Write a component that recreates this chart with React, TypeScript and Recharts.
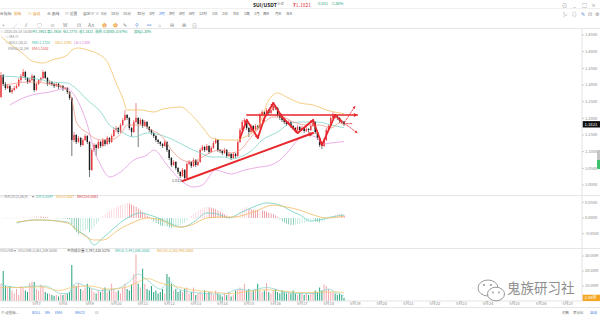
import React from 'react';
import { ComposedChart, Bar, Line, XAxis, YAxis, Cell, ReferenceLine, ReferenceDot } from 'recharts';

// ---------- data (2-hour candles, SUI/USDT) ----------
const FIRST_DAY_SLOT = 16; // slot of 5月7 00:00
const SLOTS_PER_DAY = 12;
const TOTAL_SLOTS = 263;
const firstDay = 7;

const opens = [
  1.264, 1.330, 1.303, 1.291, 1.297, 1.279, 1.285, 1.291, 1.297, 1.315,
  1.327, 1.339, 1.321, 1.309, 1.315, 1.327, 1.285, 1.303, 1.315, 1.321,
  1.339, 1.321, 1.303, 1.309, 1.303, 1.297, 1.303, 1.294, 1.297, 1.288,
  1.291, 1.279, 1.261, 1.135, 1.150, 1.129, 1.141, 1.120, 1.135, 1.147,
  1.129, 1.045, 1.105, 1.120, 1.111, 1.129, 1.117, 1.135, 1.123, 1.141,
  1.129, 1.147, 1.165, 1.171, 1.159, 1.180, 1.195, 1.210, 1.201, 1.171,
  1.159, 1.189, 1.201, 1.183, 1.195, 1.177, 1.189, 1.174, 1.165, 1.156,
  1.147, 1.135, 1.129, 1.123, 1.117, 1.129, 1.105, 1.081, 1.060, 1.069,
  1.051, 1.039, 1.027, 1.045, 1.021, 1.063, 1.069, 1.057, 1.075, 1.060,
  1.069, 1.105, 1.114, 1.105, 1.117, 1.099, 1.111, 1.126, 1.135, 1.105,
  1.102, 1.096, 1.105, 1.087, 1.093, 1.081, 1.093, 1.087, 1.129, 1.165,
  1.189, 1.195, 1.171, 1.159, 1.177, 1.165, 1.177, 1.171, 1.210, 1.219,
  1.213, 1.225, 1.216, 1.225, 1.237, 1.231, 1.210, 1.201, 1.195, 1.189,
  1.183, 1.189, 1.177, 1.171, 1.165, 1.174, 1.165, 1.171, 1.162, 1.168,
  1.165, 1.177, 1.189, 1.159, 1.141, 1.120, 1.117, 1.135, 1.165, 1.177,
  1.201, 1.210, 1.207, 1.201, 1.192, 1.1901,
];
const highs = [
  1.339, 1.333, 1.309, 1.303, 1.300, 1.291, 1.297, 1.303, 1.321, 1.333,
  1.348, 1.342, 1.324, 1.321, 1.333, 1.330, 1.306, 1.318, 1.324, 1.345,
  1.342, 1.324, 1.315, 1.312, 1.306, 1.309, 1.306, 1.300, 1.300, 1.294,
  1.294, 1.282, 1.264, 1.159, 1.153, 1.147, 1.144, 1.141, 1.153, 1.150,
  1.132, 1.111, 1.126, 1.123, 1.135, 1.132, 1.141, 1.138, 1.147, 1.144,
  1.153, 1.171, 1.177, 1.174, 1.186, 1.201, 1.225, 1.213, 1.204, 1.174,
  1.195, 1.246, 1.204, 1.201, 1.198, 1.195, 1.192, 1.177, 1.168, 1.159,
  1.150, 1.138, 1.132, 1.126, 1.135, 1.132, 1.108, 1.084, 1.075, 1.072,
  1.054, 1.042, 1.051, 1.048, 1.069, 1.075, 1.072, 1.081, 1.078, 1.075,
  1.111, 1.120, 1.117, 1.123, 1.120, 1.117, 1.132, 1.141, 1.138, 1.108,
  1.105, 1.111, 1.108, 1.099, 1.096, 1.099, 1.096, 1.135, 1.171, 1.195,
  1.201, 1.198, 1.174, 1.183, 1.180, 1.183, 1.180, 1.216, 1.225, 1.222,
  1.231, 1.228, 1.231, 1.249, 1.240, 1.234, 1.213, 1.204, 1.198, 1.192,
  1.195, 1.192, 1.180, 1.174, 1.180, 1.177, 1.177, 1.174, 1.174, 1.171,
  1.183, 1.195, 1.192, 1.162, 1.144, 1.126, 1.141, 1.171, 1.183, 1.207,
  1.219, 1.213, 1.210, 1.204, 1.195, 1.1926,
];
const lows = [
  1.261, 1.297, 1.285, 1.288, 1.276, 1.273, 1.282, 1.288, 1.294, 1.309,
  1.321, 1.315, 1.303, 1.306, 1.312, 1.279, 1.282, 1.300, 1.309, 1.318,
  1.318, 1.297, 1.300, 1.297, 1.291, 1.294, 1.288, 1.291, 1.282, 1.285,
  1.273, 1.255, 1.087, 1.129, 1.123, 1.126, 1.114, 1.117, 1.132, 1.123,
  1.024, 1.042, 1.099, 1.087, 1.108, 1.111, 1.114, 1.117, 1.120, 1.123,
  1.126, 1.144, 1.159, 1.153, 1.156, 1.177, 1.192, 1.195, 1.165, 1.144,
  1.156, 1.186, 1.114, 1.180, 1.171, 1.174, 1.168, 1.159, 1.150, 1.141,
  1.129, 1.123, 1.117, 1.111, 1.114, 1.099, 1.075, 1.054, 1.057, 1.045,
  1.033, 1.021, 1.024, 1.013, 1.018, 1.060, 1.051, 1.054, 1.054, 1.057,
  1.066, 1.102, 1.099, 1.102, 1.093, 1.096, 1.108, 1.123, 1.099, 1.096,
  1.090, 1.093, 1.081, 1.084, 1.075, 1.078, 1.081, 1.084, 1.126, 1.162,
  1.183, 1.165, 1.144, 1.156, 1.159, 1.162, 1.165, 1.168, 1.207, 1.207,
  1.210, 1.210, 1.213, 1.222, 1.225, 1.204, 1.195, 1.189, 1.183, 1.177,
  1.180, 1.171, 1.165, 1.159, 1.162, 1.159, 1.162, 1.156, 1.159, 1.159,
  1.162, 1.174, 1.153, 1.135, 1.114, 1.108, 1.114, 1.132, 1.162, 1.174,
  1.198, 1.201, 1.195, 1.186, 1.184, 1.1774,
];
const closes = [
  1.330, 1.303, 1.291, 1.297, 1.279, 1.285, 1.291, 1.297, 1.315, 1.327,
  1.339, 1.321, 1.309, 1.315, 1.327, 1.285, 1.303, 1.315, 1.321, 1.339,
  1.321, 1.303, 1.309, 1.303, 1.297, 1.303, 1.294, 1.297, 1.288, 1.291,
  1.279, 1.261, 1.135, 1.150, 1.129, 1.141, 1.120, 1.135, 1.147, 1.129,
  1.045, 1.105, 1.120, 1.111, 1.129, 1.117, 1.135, 1.123, 1.141, 1.129,
  1.147, 1.165, 1.171, 1.159, 1.180, 1.195, 1.210, 1.201, 1.171, 1.159,
  1.189, 1.201, 1.183, 1.195, 1.177, 1.189, 1.174, 1.165, 1.156, 1.147,
  1.135, 1.129, 1.123, 1.117, 1.129, 1.105, 1.081, 1.060, 1.069, 1.051,
  1.039, 1.027, 1.045, 1.021, 1.063, 1.069, 1.057, 1.075, 1.060, 1.069,
  1.105, 1.114, 1.105, 1.117, 1.099, 1.111, 1.126, 1.135, 1.105, 1.102,
  1.096, 1.105, 1.087, 1.093, 1.081, 1.093, 1.087, 1.129, 1.165, 1.189,
  1.195, 1.171, 1.159, 1.177, 1.165, 1.177, 1.171, 1.210, 1.219, 1.213,
  1.225, 1.216, 1.225, 1.237, 1.231, 1.210, 1.201, 1.195, 1.189, 1.183,
  1.189, 1.177, 1.171, 1.165, 1.174, 1.165, 1.171, 1.162, 1.168, 1.165,
  1.177, 1.189, 1.159, 1.141, 1.120, 1.117, 1.135, 1.165, 1.177, 1.201,
  1.210, 1.207, 1.201, 1.192, 1.190, 1.1821,
];
// volume in millions
const volumes = [
  11.6, 20, 10, 9, 10, 7, 5, 8, 4, 10,
  9, 7, 6, 12, 13, 12.6, 8, 7, 11, 10,
  6, 5, 5, 4, 3.5, 4, 3, 4.4, 4, 5,
  5, 6, 24, 11, 10, 12, 8, 7, 9, 11.5,
  9, 8, 6, 5, 7, 6, 8, 9, 6, 7,
  11.5, 8, 6, 7, 5, 9, 11.5, 8, 7, 11,
  18, 31, 11.5, 9, 21.5, 11.5, 8, 7, 10, 6,
  7, 5, 6, 8, 5, 18, 16, 11.5, 7, 8,
  6, 7, 6, 8, 9, 5, 6, 9, 4, 5,
  6, 5, 7, 5, 6, 6, 4, 7, 5, 4,
  3, 5, 4, 6, 3, 4, 7, 8, 9, 8,
  11.5, 7, 8, 6, 7, 8, 11.5, 7, 6, 7,
  12, 6, 5, 7, 8, 6, 5, 7, 6, 5,
  6, 5, 7, 5, 4, 5, 6, 4, 5, 4,
  5, 6, 7, 6, 9, 7, 11, 10, 8, 6,
  6, 5, 4, 5, 4, 2.06,
];
const macdHist = [
  0.001, -0.001, 0.001, 0.002, -0.001, 0.001, 0.002, 0.001, -0.001, 0.001,
  0.002, 0.001, 0.001, 0.002, 0.004, 0.005, 0.006, 0.006, 0.005, 0.004,
  0.003, 0.002, 0.001, -0.001, 0.001, -0.001, -0.002, -0.001, -0.002, -0.002,
  -0.003, -0.005, -0.020, -0.035, -0.045, -0.052, -0.048, -0.042, -0.038, -0.035,
  -0.045, -0.035, -0.028, -0.020, -0.010, 0.003, 0.008, 0.012, 0.018, 0.022,
  0.027, 0.032, 0.036, 0.038, 0.041, 0.044, 0.046, 0.048, 0.046, 0.043,
  0.040, 0.036, 0.030, 0.025, 0.020, 0.014, 0.008, 0.003, -0.004, -0.010,
  -0.016, -0.020, -0.024, -0.026, -0.025, -0.027, -0.030, -0.031, -0.029, -0.027,
  -0.025, -0.022, -0.018, -0.015, -0.008, 0.002, 0.006, 0.012, 0.018, 0.024,
  0.028, 0.031, 0.034, 0.035, 0.034, 0.033, 0.030, 0.028, 0.024, 0.020,
  0.016, 0.012, 0.008, 0.005, 0.004, 0.006, 0.008, 0.012, 0.020, 0.028,
  0.033, 0.035, 0.030, 0.028, 0.026, 0.025, 0.024, 0.025, 0.024, 0.022,
  0.020, 0.017, 0.014, 0.012, 0.008, 0.004, -0.004, -0.010, -0.015, -0.018,
  -0.020, -0.022, -0.022, -0.021, -0.020, -0.019, -0.017, -0.015, -0.013, -0.011,
  -0.009, -0.007, -0.010, -0.012, -0.014, -0.013, -0.010, -0.005, -0.001, 0.002,
  0.004, 0.010, 0.014, 0.016, 0.012, 0.008,
];
// indicator lines read at key points: [slot, value]
const bollUpper: [number, number][] = [
  [0, 1.445], [5, 1.418], [9, 1.399], [14, 1.372], [19, 1.366], [23, 1.375], [30, 1.39], [32, 1.405],
  [35, 1.411], [39, 1.405], [43, 1.396], [48, 1.369], [52, 1.306], [55, 1.26], [57, 1.225], [63, 1.225],
  [69, 1.219], [73, 1.228], [76, 1.231], [81, 1.234], [87, 1.204], [92, 1.165], [95, 1.141], [101, 1.135],
  [106, 1.135], [109, 1.141], [116, 1.174], [121, 1.255], [125, 1.276], [129, 1.264], [135, 1.246],
  [141, 1.24], [147, 1.225], [153, 1.216], [155, 1.214],
];
const bollMid: [number, number][] = [
  [0, 1.327], [19, 1.315], [21, 1.309], [30, 1.306], [33, 1.294], [39, 1.255], [45, 1.219], [49, 1.18],
  [53, 1.165], [60, 1.144], [66, 1.156], [72, 1.15], [78, 1.135], [84, 1.114], [90, 1.096], [95, 1.084],
  [101, 1.084], [104, 1.078], [110, 1.09], [113, 1.102], [118, 1.135], [125, 1.159], [131, 1.186],
  [136, 1.189], [143, 1.189], [149, 1.18], [155, 1.1722],
];
const bollLower: [number, number][] = [
  [4, 1.24], [8, 1.255], [14, 1.27], [22, 1.279], [30, 1.291], [32, 1.279], [36, 1.234], [39, 1.18],
  [42, 1.105], [45, 1.06], [49, 1.024], [54, 1.039], [60, 1.075], [66, 1.09], [69, 1.105], [75, 1.06],
  [81, 1.015], [87, 0.994], [91, 1.0], [97, 1.045], [104, 1.033], [110, 1.045], [117, 1.054],
  [122, 1.06], [126, 1.075], [131, 1.111], [134, 1.135], [138, 1.15], [143, 1.141], [145, 1.123],
  [149, 1.126], [155, 1.1305],
];
const emaLine: [number, number][] = [
  [2, 1.3], [13, 1.309], [22, 1.303], [29, 1.291], [32, 1.255], [34, 1.189], [39, 1.156], [45, 1.135],
  [49, 1.135], [54, 1.153], [57, 1.18], [64, 1.18], [68, 1.165], [73, 1.144], [77, 1.105], [82, 1.075],
  [86, 1.069], [91, 1.084], [95, 1.099], [100, 1.105], [104, 1.096], [108, 1.105], [113, 1.144],
  [117, 1.174], [123, 1.204], [127, 1.204], [132, 1.189], [138, 1.18], [144, 1.18], [149, 1.171],
  [153, 1.186], [155, 1.18],
];
const difLine: [number, number][] = [
  [7, -0.016], [15, -0.006], [30, -0.013], [34, -0.038], [39, -0.06], [42, -0.086], [45, -0.07],
  [51, -0.032], [57, 0.0], [63, 0.016], [67, 0.01], [73, -0.006], [78, -0.022], [82, -0.029],
  [87, -0.013], [93, 0.016], [99, 0.01], [103, 0.0], [108, 0.016], [114, 0.035], [120, 0.048],
  [126, 0.041], [132, 0.019], [135, 0.01], [140, -0.01], [144, -0.006], [149, 0.003], [155, 0.0097],
];
const deaLine: [number, number][] = [
  [7, -0.013], [18, -0.006], [30, -0.016], [36, -0.048], [42, -0.07], [46, -0.07], [53, -0.038],
  [60, -0.013], [66, 0.0], [72, -0.006], [80, -0.029], [86, -0.022], [93, 0.0], [99, 0.003],
  [105, 0.003], [114, 0.019], [123, 0.041], [129, 0.035], [135, 0.025], [141, 0.01], [147, 0.0],
  [155, 0.0057],
];
const volMa5: [number, number][] = [
  [0, 11], [8, 9], [15, 10], [20, 10], [27, 5], [30, 5], [34, 12], [38, 10], [45, 7], [52, 8],
  [58, 13], [62, 18], [66, 14], [72, 8], [76, 13], [80, 8], [86, 6], [92, 5], [100, 4.5], [108, 8],
  [112, 7], [120, 9], [128, 6], [135, 5], [142, 5], [148, 8], [152, 5], [155, 3.44],
];
const volMa10: [number, number][] = [
  [0, 9], [10, 9], [18, 9.5], [26, 7], [32, 9], [40, 10], [48, 8], [56, 9], [61, 12], [66, 15],
  [72, 12], [78, 10], [86, 7.5], [95, 6], [104, 5], [112, 6.5], [120, 7.5], [128, 6.5], [136, 5.5],
  [146, 6], [152, 6], [155, 5.3],
];
// drawn annotations [slot, price]
const trendArrow: [number, number][] = [[82, 1.012], [141, 1.156]];
const resistance: [number, number][] = [[111, 1.21], [161, 1.21]];
const zigzag: [number, number][] = [
  [108, 1.141], [111, 1.195], [116, 1.141], [119, 1.201], [123, 1.246], [127, 1.204], [134, 1.156],
  [141, 1.195], [145, 1.12], [151, 1.21], [154, 1.189],
];
const projectionUp: [number, number][] = [[155, 1.186], [160, 1.237]];
const projectionFlat: [number, number][] = [[156, 1.184], [159, 1.184]];
const projectionDown: [number, number][] = [[155, 1.186], [161, 1.156]];
const lowMark: [number, number] = [83, 1.013];

const priceTicks = [1.0, 1.05, 1.1, 1.15, 1.2, 1.25, 1.3, 1.35, 1.4, 1.45];
const macdTicks = [-0.05, 0, 0.05];
const volTicks = [10, 20, 30];

// ---------- build rows ----------
type Row = { [key: string]: any };
const rows: Row[] = Array.from({ length: TOTAL_SLOTS }, (_, k) => {
  const has = k < closes.length;
  return {
    k,
    range: has ? [lows[k], highs[k]] : null,
    open: has ? opens[k] : null,
    high: has ? highs[k] : null,
    low: has ? lows[k] : null,
    close: has ? closes[k] : null,
    vol: has ? volumes[k] : null,
    hist: has ? macdHist[k] : null,
  };
});
const put = (pts: [number, number][], key: string) => pts.forEach(([k, v]) => { rows[k][key] = v; });
put(bollUpper, 'ub');
put(bollMid, 'mid');
put(bollLower, 'lb');
put(emaLine, 'ema');
put(difLine, 'dif');
put(deaLine, 'dea');
put(volMa5, 'ma5');
put(volMa10, 'ma10');

const lastClose = closes[closes.length - 1];
const lastVol = volumes[volumes.length - 1];

const RED = '#e8262c';
const UP = '#e8393e';
const DOWN = '#1c1c1c';
const FONT = "'Noto Sans CJK SC', 'Noto Sans', sans-serif";

const Candle = (props: any) => {
  const { x, y, width, height, payload } = props;
  if (!payload || payload.open == null || x == null) return null;
  const { open, close, high, low } = payload;
  const top = Math.min(y, y + height);
  const bot = Math.max(y, y + height);
  const ppu = (bot - top) / (high - low || 1);
  const py = (v: number) => top + (high - v) * ppu;
  const color = close >= open ? UP : DOWN;
  const cx = x + width / 2;
  const bw = Math.max(1.2, width * 0.72);
  const yo = py(open);
  const yc = py(close);
  const bt = Math.min(yo, yc);
  const bh = Math.max(0.6, Math.abs(yo - yc));
  return (
    <g>
      <line x1={cx} x2={cx} y1={top} y2={bot} stroke={color} strokeWidth={0.6} />
      <rect x={cx - bw / 2} y={bt} width={bw} height={bh} fill={color} />
    </g>
  );
};

const arrowShape = (w: number, head: number, dashed = false) => (p: any) => {
  const { x1, y1, x2, y2 } = p;
  if ([x1, y1, x2, y2].some((v) => v == null || Number.isNaN(v))) return <g />;
  const a = Math.atan2(y2 - y1, x2 - x1);
  const hx1 = x2 - head * Math.cos(a - 0.5);
  const hy1 = y2 - head * Math.sin(a - 0.5);
  const hx2 = x2 - head * Math.cos(a + 0.5);
  const hy2 = y2 - head * Math.sin(a + 0.5);
  return (
    <g>
      <line x1={x1} y1={y1} x2={x2} y2={y2} stroke={RED} strokeWidth={w}
        strokeDasharray={dashed ? '2 1.5' : undefined} strokeLinecap="round" />
      {head > 0 && <polygon points={`${x2},${y2} ${hx1},${hy1} ${hx2},${hy2}`} fill={RED} />}
    </g>
  );
};

const seg = (a: [number, number], b: [number, number]) => [
  { x: a[0], y: a[1] },
  { x: b[0], y: b[1] },
];

const axisTagLabel = (text: string, bg: string) => (p: any) => {
  const vb = p.viewBox || {};
  const xr = (vb.x || 0) + (vb.width || 0);
  const yy = vb.y || 0;
  return (
    <g>
      <rect x={xr + 0.5} y={yy - 3.2} width={17.5} height={6.4} fill={bg} />
      <text x={xr + 2.5} y={yy + 1.5} fontSize={4.2} fill="#fff" fontFamily={FONT}>{text}</text>
    </g>
  );
};

const T = ({ x, y, s = 3.5, c = '#777', b = false, children }: any) => (
  <div style={{
    position: 'absolute', left: x, top: y - s * 0.7, fontSize: s, lineHeight: 1.4,
    color: c, fontWeight: b ? 700 : 400, whiteSpace: 'nowrap', fontFamily: FONT,
  }}>{children}</div>
);

const HLine = ({ y, x = 0, w = 600, c = '#e6e6e6' }: any) => (
  <div style={{ position: 'absolute', left: x, top: y, width: w, height: 1, background: c }} />
);

const timeframes: [string, number, boolean][] = [
  ['5分', 101, false], ['10分', 111, false], ['15分', 123, false], ['30分', 137, false],
  ['1时', 149, false], ['2时', 159, true], ['3时', 169, false], ['4时', 179, false],
  ['6时', 189, false], ['12时', 199, false], ['1日', 212, false], ['2日', 222, false],
  ['3日', 233, false], ['1周', 244, false], ['1月', 254, false], ['周K', 263, false],
  ['月K', 275, false], ['年K', 286, false],
];
const toolIcons: [string, number, string][] = [
  ['+', 2, '#888'], ['╱', 13, '#888'], ['⫽', 25, '#888'], ['○', 37, '#888'], ['≡', 50, '#888'],
  ['W', 63, '#888'], ['⊡', 77, '#888'], ['Aa', 88, '#888'], ['✿', 102, '#f0a040'], ['✿', 113, '#f0a040'],
  ['✎', 123, '#888'], ['⚲', 135, '#4a7fd8'], ['⚯', 147, '#4a7fd8'], ['⌂', 158, '#888'],
  ['⊟', 170, '#888'], ['⊞', 182, '#888'], ['⊙', 192, '#888'],
];

const dayLabel = (k: any) => {
  const n = Number(k);
  if (n < FIRST_DAY_SLOT || (n - FIRST_DAY_SLOT) % SLOTS_PER_DAY !== 0) return '';
  return `5月${firstDay + (n - FIRST_DAY_SLOT) / SLOTS_PER_DAY}`;
};

const histColor = (i: number) => {
  const v = macdHist[i];
  const prev = i > 0 ? macdHist[i - 1] : v;
  if (v >= 0) return v >= prev ? '#f5b3bb' : '#d8333d';
  return v <= prev ? '#0f9a6a' : '#86d8bb';
};

const yTick = { fontSize: 4, fill: '#8a8a8a', fontFamily: FONT };

export default function App() {
  return (
    <div style={{ position: 'absolute', left: 0, top: 0, width: 600, height: 316, background: '#fff', overflow: 'hidden', fontFamily: FONT }}>
      {/* title row */}
      <T x={253} y={4} s={5} c="#222" b>SUI/USDT</T>
      <T x={277} y={4.3} s={3.5} c="#888">永续</T>
      <T x={293} y={4} s={5} c="#e0323a">₮1.1821</T>
      <T x={317} y={4} s={3.8} c="#1aa37a">-0.031</T>
      <T x={331} y={4} s={3.8} c="#1aa37a">-2.56%</T>
      <T x={562} y={4} s={5} c="#777">⊙</T>
      <T x={573} y={4} s={5} c="#777">_</T>
      <T x={582} y={4} s={5} c="#777">□</T>
      <T x={591} y={4} s={5} c="#777">×</T>
      <HLine y={8} c="#f0f0f0" />
      {/* toolbar row */}
      <T x={0} y={14} s={3.8} c="#666">⊟ 指标</T>
      <T x={14} y={14} s={3.8} c="#e8962e">模板</T>
      <T x={28} y={14} s={3.8} c="#e8962e">⊙ 自选</T>
      <T x={47} y={14} s={3.8} c="#666">⊕ 画线</T>
      <T x={65} y={14} s={3.8} c="#666">⊙ 设置</T>
      <T x={83} y={14} s={3.8} c="#666">自定义 ∨</T>
      {timeframes.map(([t, x, active]) => (
        <T key={t} x={x} y={14} s={3.8} c={active ? '#3b78e0' : '#666'}>{t}</T>
      ))}
      <T x={563} y={14} s={4.5} c="#888">✂</T>
      <T x={572} y={14} s={4.5} c="#888">◎</T>
      <T x={581} y={14} s={4.5} c="#4a7fd8">✎</T>
      <T x={588} y={14} s={4.5} c="#888">⊡</T>
      <T x={595} y={14} s={4.5} c="#888">⚙</T>
      {toolIcons.map(([t, x, c], i) => (
        <T key={i} x={x} y={24} s={5} c={c}>{t}</T>
      ))}
      <HLine y={28} />

      {/* main price chart */}
      <div style={{ position: 'absolute', left: 0, top: 29 }}>
        <ComposedChart width={600} height={166} data={rows} margin={{ top: 0, right: 0, bottom: 0, left: 0 }}
          barCategoryGap={0} barGap={0}>
          <XAxis dataKey="k" type="category" hide />
          <YAxis orientation="right" width={18} domain={[0.97, 1.468]} allowDataOverflow ticks={priceTicks}
            tickFormatter={(v: number) => v.toFixed(4)} tick={yTick} tickSize={2} tickMargin={1}
            tickLine={{ stroke: '#ccc' }} axisLine={{ stroke: '#e3e3e3' }} />
          <Line dataKey="ub" stroke="#f2c266" strokeWidth={0.8} dot={false} connectNulls type="monotone" isAnimationActive={false} />
          <Line dataKey="mid" stroke="#7fd4ca" strokeWidth={0.8} dot={false} connectNulls type="monotone" isAnimationActive={false} />
          <Line dataKey="lb" stroke="#e49ae0" strokeWidth={0.8} dot={false} connectNulls type="monotone" isAnimationActive={false} />
          <Line dataKey="ema" stroke="#ee8e7c" strokeWidth={0.7} dot={false} connectNulls type="monotone" isAnimationActive={false} />
          <Bar dataKey="range" shape={<Candle />} isAnimationActive={false} />
          <ReferenceLine segment={seg(trendArrow[0], trendArrow[1])} shape={arrowShape(2, 5)} />
          <ReferenceLine segment={seg(resistance[0], resistance[1])} shape={arrowShape(1.5, 4)} />
          {zigzag.slice(1).map((p, i) => (
            <ReferenceLine key={i} segment={seg(zigzag[i], p)} shape={arrowShape(1.8, 3.5)} />
          ))}
          <ReferenceLine segment={seg(projectionUp[0], projectionUp[1])} shape={arrowShape(0.8, 3, true)} />
          <ReferenceLine segment={seg(projectionFlat[0], projectionFlat[1])} shape={arrowShape(0.8, 0, true)} />
          <ReferenceLine segment={seg(projectionDown[0], projectionDown[1])} shape={arrowShape(0.8, 3, true)} />
          <ReferenceDot x={lowMark[0]} y={lowMark[1]} r={0} fill="none" stroke="none"
            label={{ value: lowMark[1].toFixed(3), position: 'left', fontSize: 4, fill: '#555', offset: 3 }} />
          <ReferenceLine y={lastClose} stroke="none" label={axisTagLabel(lastClose.toFixed(4), '#111')} />
        </ComposedChart>
      </div>
      {/* main legends */}
      <T x={0} y={32} c="#888">◎ 2025-05-18 14:00</T>
      <T x={32} y={32} c="#1aa37a">开1.1901</T>
      <T x={47} y={32} c="#1aa37a">高1.1926</T>
      <T x={63} y={32} c="#1aa37a">低1.1774</T>
      <T x={79} y={32} c="#1aa37a">收1.1821</T>
      <T x={95} y={32} c="#1aa37a">涨跌-0.0080(-0.67%)</T>
      <T x={134} y={32} c="#1aa37a">振幅1.28%</T>
      <T x={5} y={37.5} c="#888">◎ MA ⊘</T>
      <T x={5} y={43} c="#888">◎ BOLL(20,2)</T>
      <T x={32} y={43} c="#3db8a8">MID:1.1722</T>
      <T x={55} y={43} c="#e8a93a">UB:1.2140</T>
      <T x={74} y={43} c="#d878d4">LB:1.1305</T>
      <T x={8} y={49} c="#888">EMA(5,12,24)</T>
      <T x={32} y={49} c="#e2584a">EM:1.1552</T>

      <HLine y={195} />
      {/* MACD */}
      <div style={{ position: 'absolute', left: 0, top: 196 }}>
        <ComposedChart width={600} height={52} data={rows} margin={{ top: 0, right: 0, bottom: 0, left: 0 }}
          barCategoryGap="40%">
          <XAxis dataKey="k" type="category" hide />
          <YAxis orientation="right" width={18} domain={[-0.0955, 0.07]} allowDataOverflow ticks={macdTicks}
            tickFormatter={(v: number) => v.toFixed(4)} tick={yTick} tickSize={2} tickMargin={1}
            tickLine={{ stroke: '#ccc' }} axisLine={{ stroke: '#e3e3e3' }} />
          <Bar dataKey="hist" isAnimationActive={false}>
            {rows.map((r, i) => (
              <Cell key={i} fill={r.hist == null ? 'none' : histColor(i)} />
            ))}
          </Bar>
          <Line dataKey="dif" stroke="#6fcfc2" strokeWidth={0.8} dot={false} connectNulls type="monotone" isAnimationActive={false} />
          <Line dataKey="dea" stroke="#f2bb62" strokeWidth={0.8} dot={false} connectNulls type="monotone" isAnimationActive={false} />
        </ComposedChart>
      </div>
      <T x={0} y={197.5} c="#888">◎ MACD(12,26,9)</T>
      <T x={32} y={197.5} c="#888">▾</T>
      <T x={36} y={197.5} c="#3db8a8">DIF:0.0097</T>
      <T x={56} y={197.5} c="#e8a93a">DEA:0.0057</T>
      <T x={77} y={197.5} c="#d8333d">MACD:0.0081</T>

      <HLine y={248} />
      {/* volume */}
      <div style={{ position: 'absolute', left: 0, top: 249 }}>
        <ComposedChart width={600} height={60} data={rows} margin={{ top: 0, right: 0, bottom: 0, left: 0 }}
          barCategoryGap="22%">
          <XAxis dataKey="k" type="category" interval={0} tickFormatter={dayLabel} height={8}
            tick={{ fontSize: 4, fill: '#8a8a8a', fontFamily: FONT }} tickLine={false} tickSize={0} tickMargin={1}
            axisLine={{ stroke: '#e3e3e3' }} />
          <YAxis orientation="right" width={18} domain={[0, 34.67]} allowDataOverflow ticks={volTicks}
            tickFormatter={(v: number) => `${v.toFixed(2)}M`} tick={yTick} tickSize={2} tickMargin={1}
            tickLine={{ stroke: '#ccc' }} axisLine={{ stroke: '#e3e3e3' }} />
          <Bar dataKey="vol" isAnimationActive={false}>
            {rows.map((r, i) => (
              <Cell key={i} fill={r.vol == null ? 'none' : (closes[i] >= opens[i] ? '#f4a7ae' : '#23a27c')} />
            ))}
          </Bar>
          <Line dataKey="ma5" stroke="#7fd4ca" strokeWidth={0.7} dot={false} connectNulls type="monotone" isAnimationActive={false} />
          <Line dataKey="ma10" stroke="#f2c266" strokeWidth={0.7} dot={false} connectNulls type="monotone" isAnimationActive={false} />
          <ReferenceLine y={lastVol} stroke="none" label={axisTagLabel(`${lastVol.toFixed(2)}M`, '#f5a623')} />
        </ComposedChart>
      </div>
      <T x={0} y={251} c="#888">VOLUME</T>
      <T x={14} y={251} c="#888">▾</T>
      <T x={18} y={251} c="#888">VOLUME:2,061,209.5000</T>
      <T x={67} y={251} c="#555">平均成交量:3,797,426.5276</T>
      <T x={115} y={251} c="#3db8a8">MA(5):3,441,645.0000</T>
      <T x={157} y={251} c="#e8a93a">MA(10):5,302,948.0000</T>

      {/* right gauge */}
      <div style={{ position: 'absolute', left: 597, top: 150, width: 3, height: 10, background: '#c4c4c4' }} />
      <div style={{ position: 'absolute', left: 597, top: 160, width: 3, height: 9, background: '#3cc26a' }} />

      {/* watermark */}
      <svg style={{ position: 'absolute', left: 476, top: 278 }} width={32} height={26}>
        <ellipse cx={12} cy={10} rx={10} ry={8} fill="#fff" stroke="#9a9a9a" strokeWidth={1} />
        <ellipse cx={20} cy={16} rx={8.5} ry={6.8} fill="#fff" stroke="#9a9a9a" strokeWidth={1} />
        <circle cx={8} cy={7} r={1.1} fill="#9a9a9a" />
        <circle cx={15} cy={7} r={1.1} fill="#9a9a9a" />
        <circle cx={17} cy={14.5} r={0.9} fill="#9a9a9a" />
        <circle cx={23} cy={14.5} r={0.9} fill="#9a9a9a" />
      </svg>
      <div style={{ position: 'absolute', left: 507, top: 281, fontSize: 13.5, color: '#8e8e8e', fontFamily: FONT, whiteSpace: 'nowrap', lineHeight: 1 }}>鬼族研习社</div>

      <HLine y={307} />
      {/* bottom bar */}
      <T x={1} y={313} c="#666">⊙ 设指标...</T>
      <T x={32} y={313} c="#3b78e0">BOLL</T>
      <T x={45} y={313} c="#3b78e0">MA</T>
      <T x={55} y={313} c="#3b78e0">EMA</T>
      <T x={75} y={313} c="#3b78e0">MACD</T>
      <T x={95} y={313} c="#888">⊡</T>
      <T x={562} y={313} c="#666">对数</T>
      <T x={573} y={313} c="#666">百分比</T>
      <T x={590} y={313} c="#3b78e0">自动</T>
    </div>
  );
}
